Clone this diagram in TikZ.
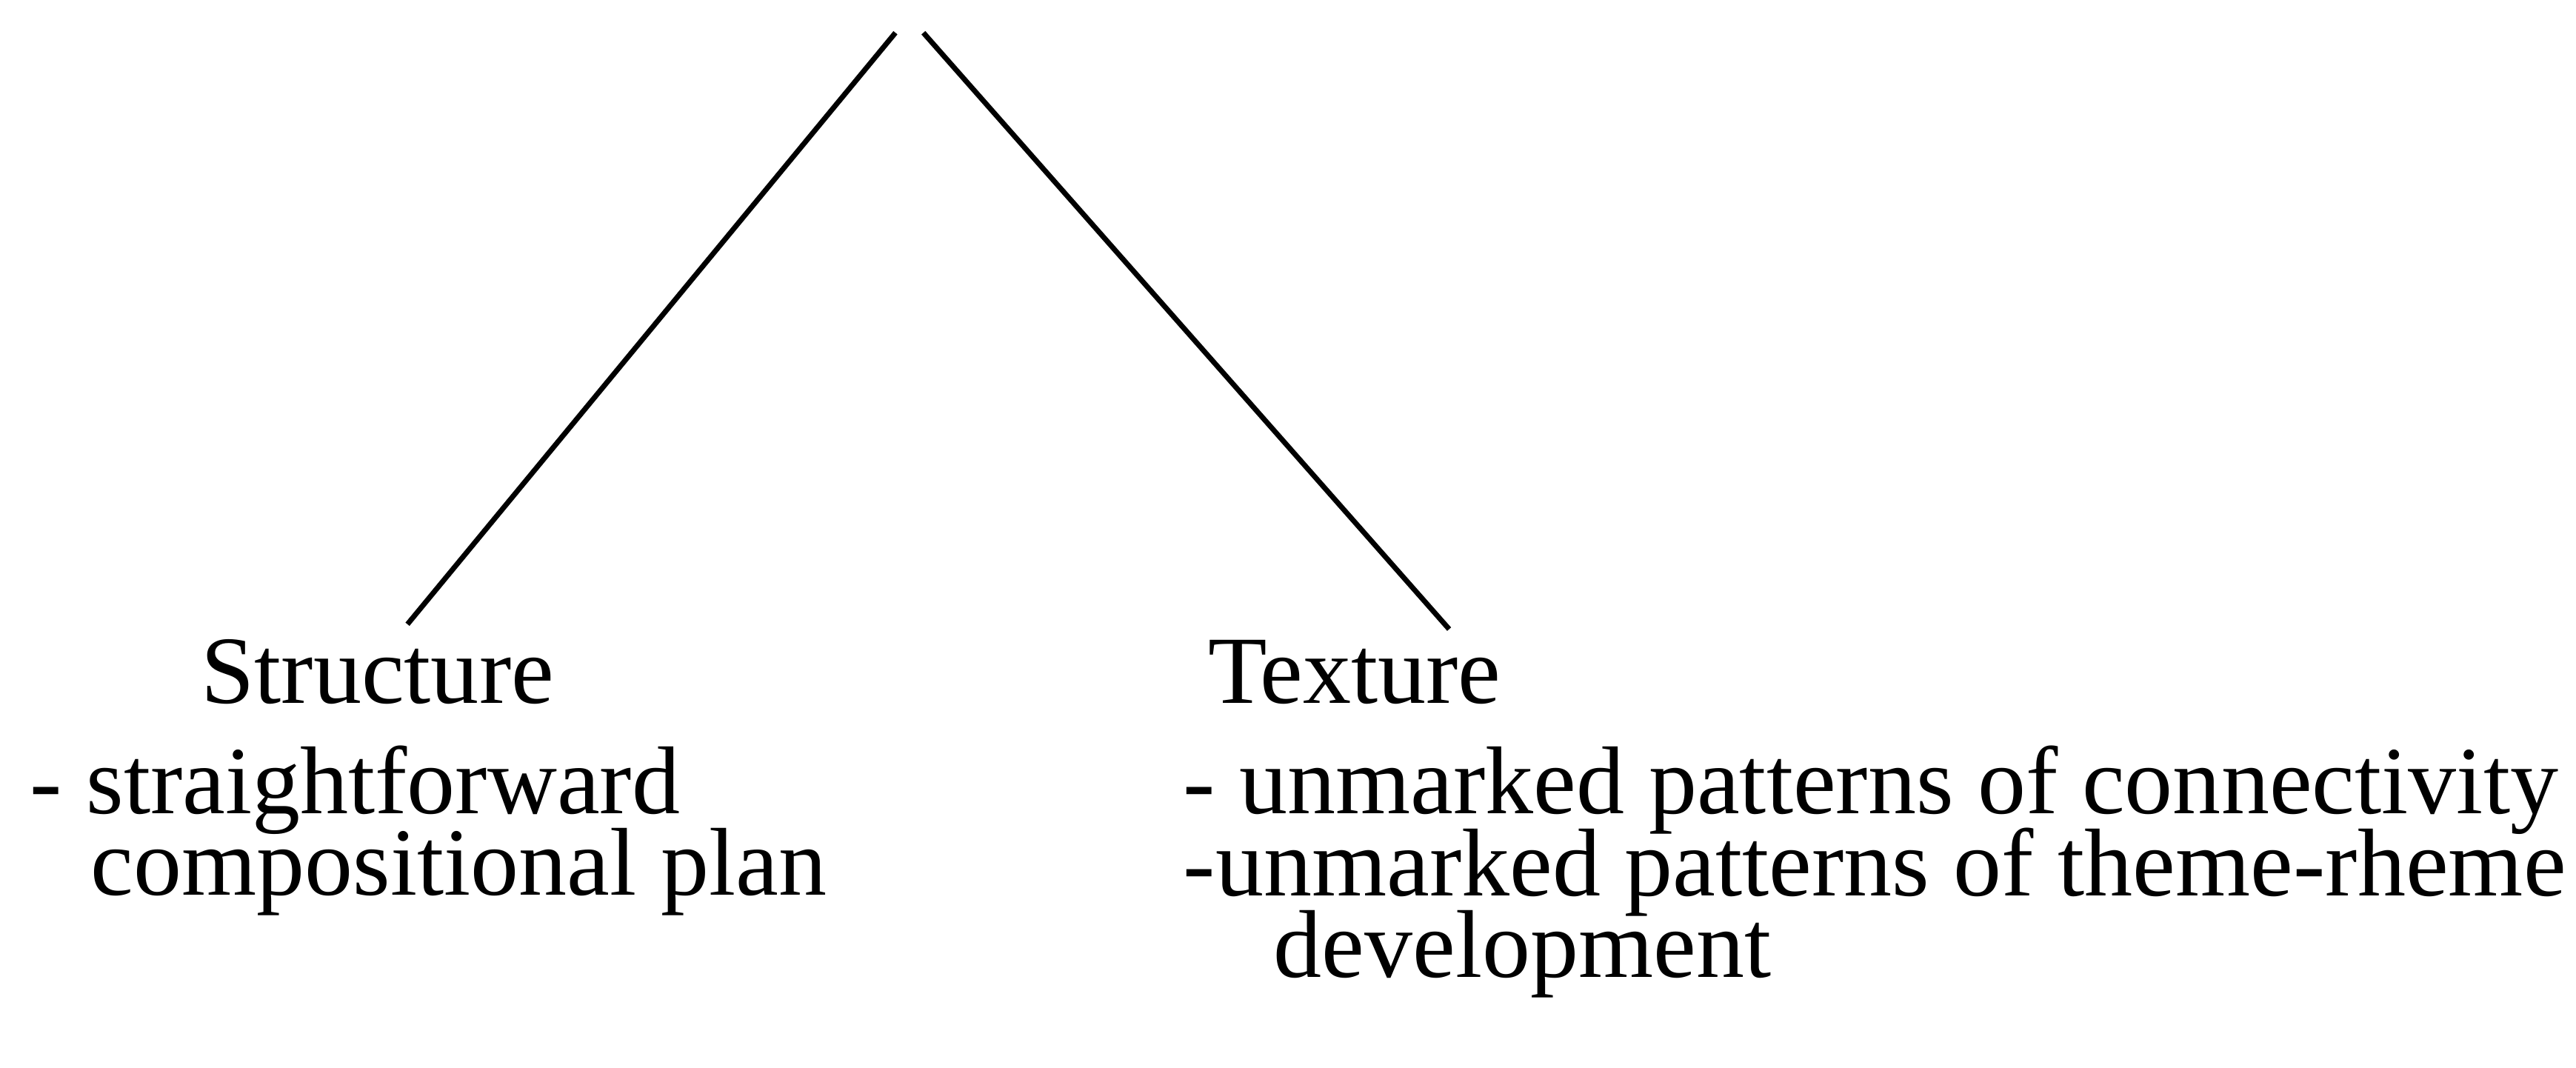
\documentclass[tikz,border=0pt]{standalone}
\usepackage{fontspec}
\setmainfont{Liberation Serif}
\newcommand{\treefont}{\fontsize{37}{31.5}\selectfont\lineskiplimit=-20pt\relax\lineskip=0pt\relax}
\begin{document}
\begin{tikzpicture}[scale=2.218, font=\treefont]

    \useasboundingbox (0,0) rectangle (15.68,6.5);

    \coordinate (topl) at (5.45,6.30);
    \coordinate (topr) at (5.62,6.30);
    \coordinate (endl) at (2.48,2.70);
    \coordinate (endr) at (8.82,2.67);

    % headings
    \node [anchor=base west, inner sep=0] (structure) at (1.22,2.22) {Structure};
    \node [anchor=base west, inner sep=0] (texture) at (7.35,2.22) {Texture};

    % lists, placed by the baseline of their last line
    \node [anchor=base west, inner sep=0, align=left] (planlist) at (0.18,1.05)
        {- straightforward\\ \hspace*{0.82cm}compositional plan};
    \node [anchor=base west, inner sep=0, align=left] (texlist) at (7.20,0.55)
        {- unmarked patterns of connectivity\\ -unmarked patterns of theme-rheme\\ \hspace*{1.22cm}development};

    \draw [line width=2pt] (topl) -- (endl);
    \draw [line width=2pt] (topr) -- (endr);

\end{tikzpicture}
\end{document}
